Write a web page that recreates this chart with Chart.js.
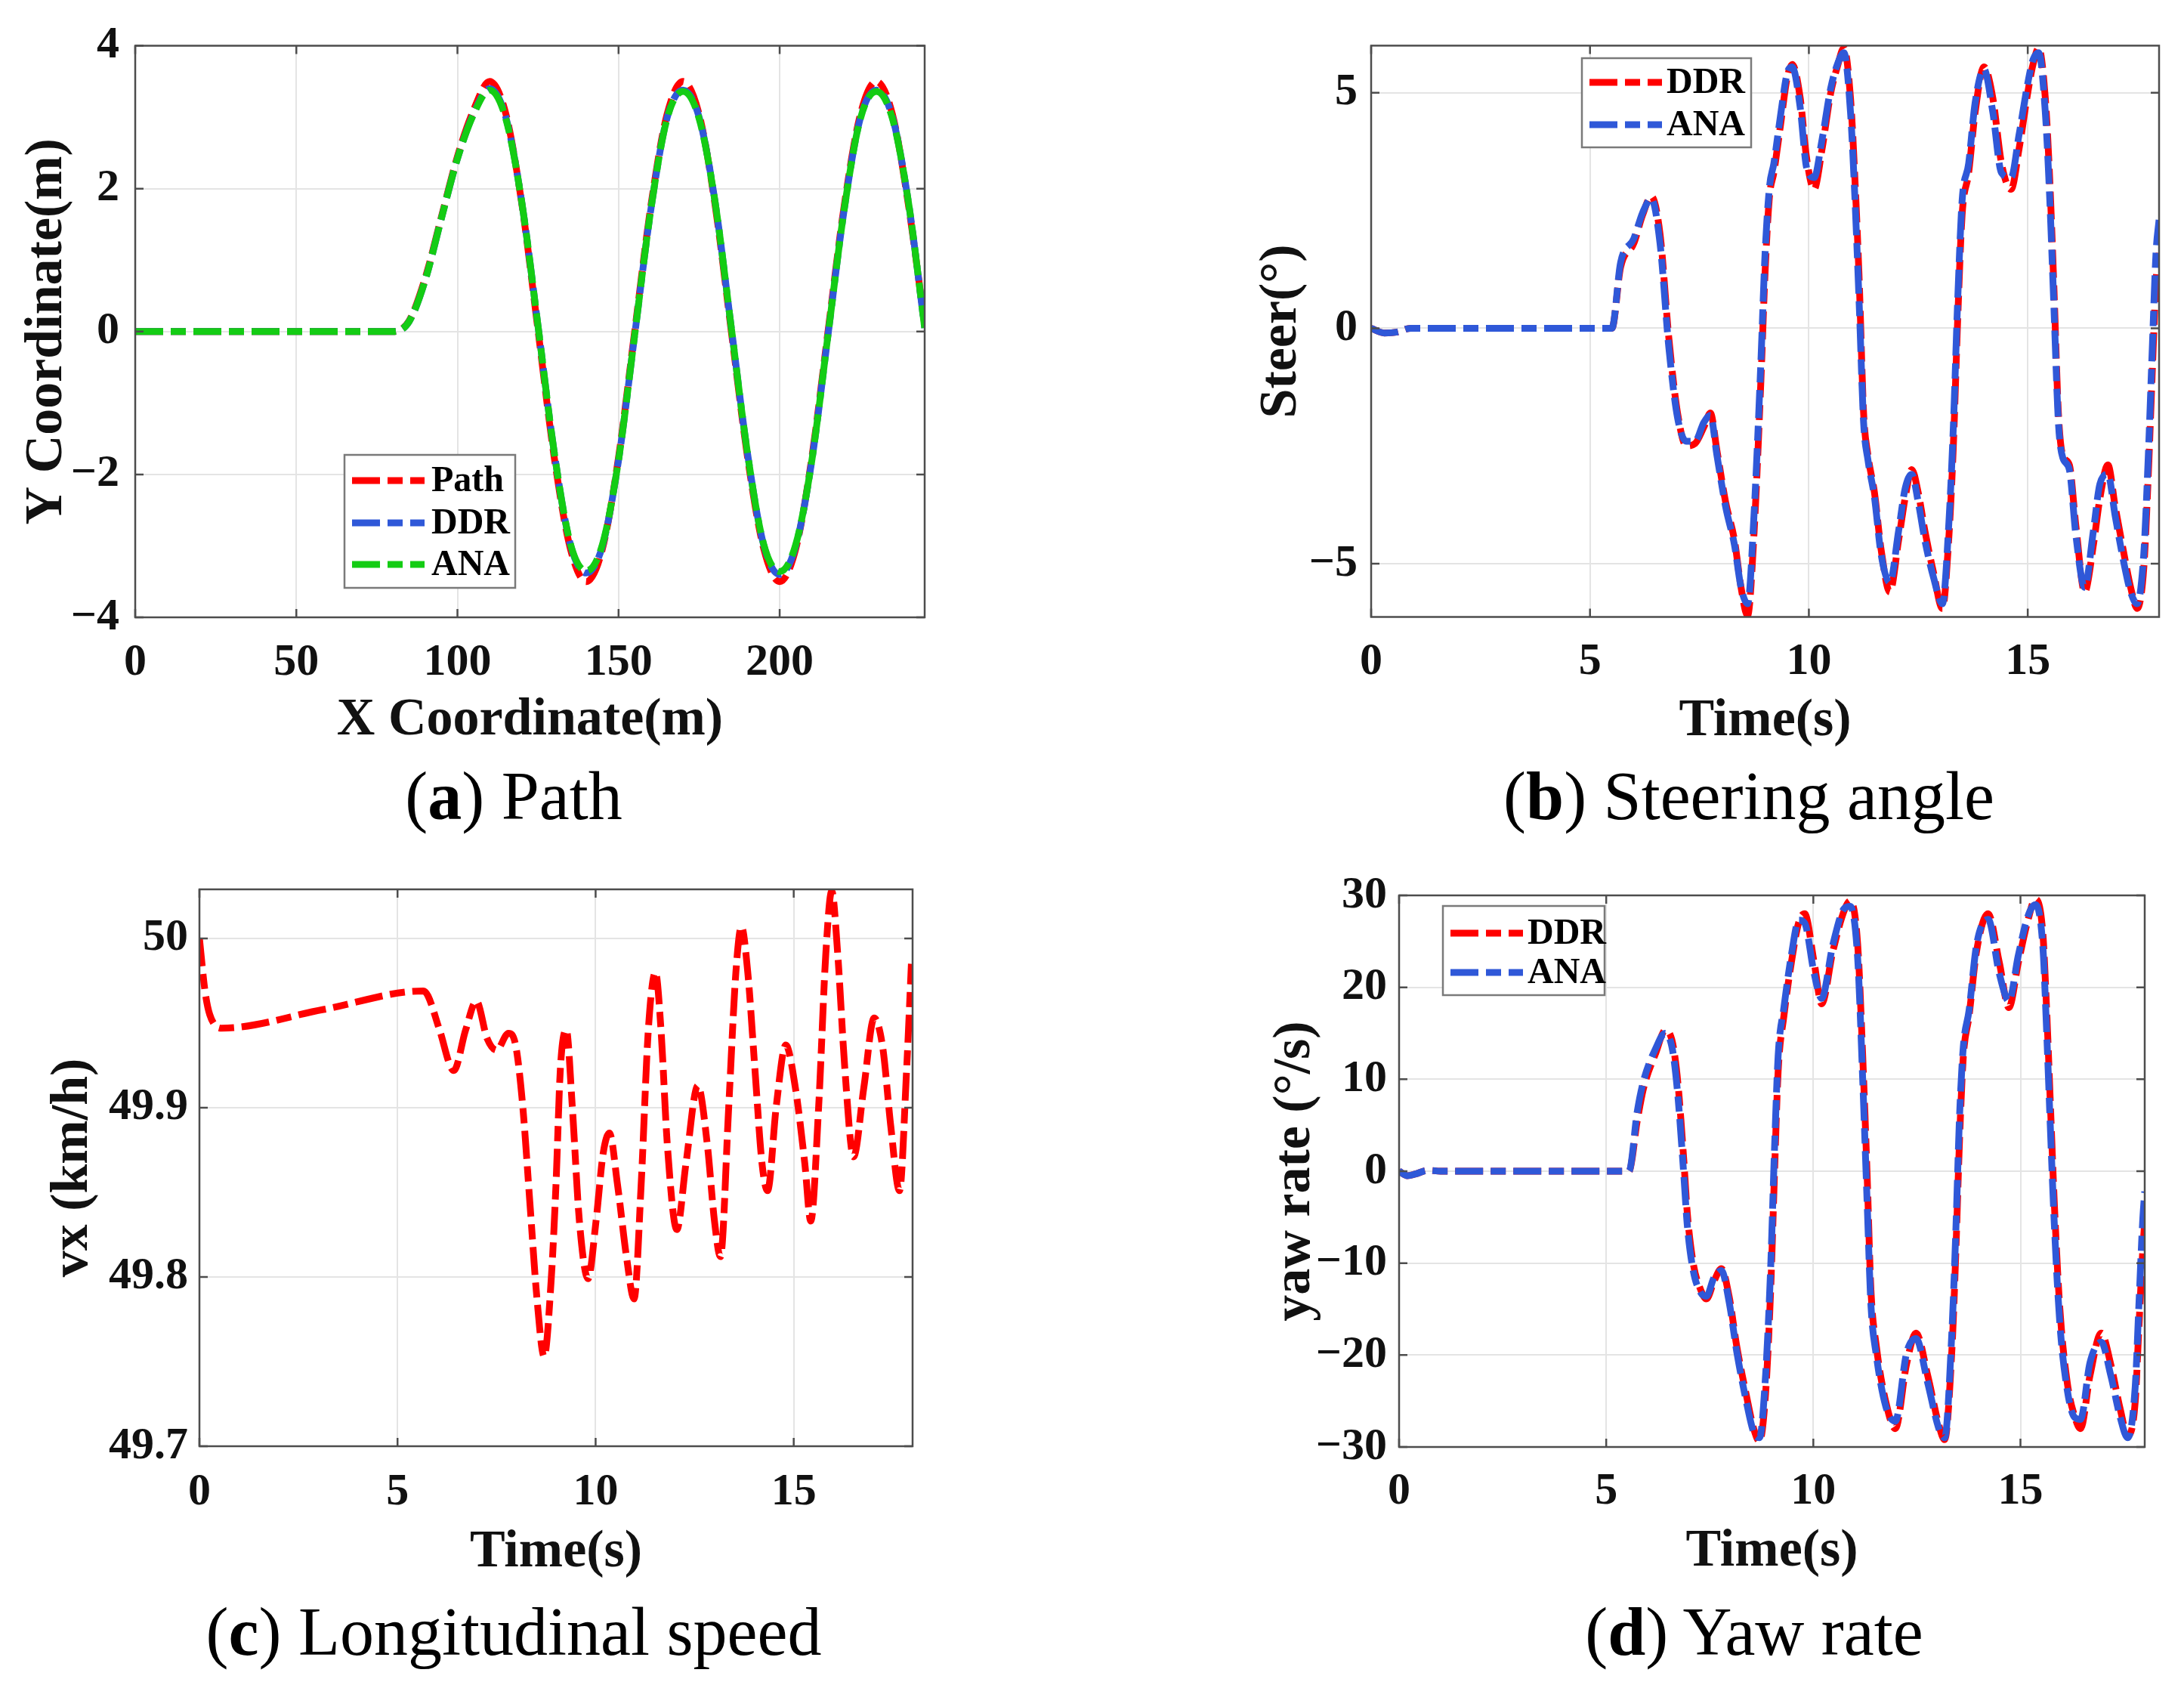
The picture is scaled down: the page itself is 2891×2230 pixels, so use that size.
<!DOCTYPE html>
<html lang="en">
<head>
<meta charset="UTF-8">
<script src="https://cdn.jsdelivr.net/npm/chart.js@4.4.1/dist/chart.umd.min.js"></script>
<title>Path, steering angle, speed and yaw rate</title>
<style>
  body { margin: 0; background: #fff; width: 2891px; height: 2230px; position: relative; overflow: hidden; }
  canvas { position: absolute; }
  .cap { position: absolute; transform: translate(-50%, -50%); font-family: 'Liberation Serif', serif;
         font-size: 90px; color: #000; white-space: nowrap; line-height: 1; }
</style>
</head>
<body>
<canvas id="pa" width="1445" height="1000" style="left:0px;top:0px"></canvas>
<canvas id="pb" width="1446" height="1000" style="left:1445px;top:0px"></canvas>
<canvas id="pc" width="1445" height="1000" style="left:0px;top:1115px"></canvas>
<canvas id="pd" width="1446" height="1000" style="left:1445px;top:1115px"></canvas>
<div class="cap" style="left:680px;top:1054px">(<b>a</b>) Path</div>
<div class="cap" style="left:2315px;top:1054px">(<b>b</b>) Steering angle</div>
<div class="cap" style="left:680px;top:2160px">(<b>c</b>) Longitudinal speed</div>
<div class="cap" style="left:2322px;top:2160px">(<b>d</b>) Yaw rate</div>
<script>
// (a) path, x in m
const pathX = [0, 5, 10, 15, 20, 25, 30, 35, 40, 45, 50, 55, 60, 65, 70, 75, 80, 85, 90, 95,
  100, 105, 110, 115, 120, 125, 130, 135, 140, 145, 150, 155, 160, 165, 170, 175, 180, 185, 190, 195,
  200, 205, 210, 215, 220, 225, 230, 235, 240, 245];
const pathRef = [0, 0, 0, 0, 0, 0, 0, 0, 0, 0, 0, 0, 0, 0, 0, 0, 0, 0.15, 0.75, 1.6,
  2.45, 3.1, 3.5, 3.05, 1.78, 0.02, -1.75, -3.03, -3.5, -3.04, -1.76, 0, 1.75, 3.03, 3.5, 3.04, 1.76, 0, -1.75, -3.03,
  -3.5, -3.04, -1.76, 0, 1.75, 3.03, 3.5, 3.04, 1.76, 0.1];
const pathDDR = [0, 0, 0, 0, 0, 0, 0, 0, 0, 0, 0, 0, 0, 0, 0, 0, 0, 0.14, 0.72, 1.58,
  2.42, 3.05, 3.4, 3.0, 1.8, 0.08, -1.68, -2.97, -3.38, -3.0, -1.8, -0.05, 1.7, 2.98, 3.38, 3.0, 1.8, 0.05, -1.7, -2.98,
  -3.4, -3.0, -1.8, -0.05, 1.7, 2.98, 3.38, 3.0, 1.8, 0.05];
const pathANA = [0, 0, 0, 0, 0, 0, 0, 0, 0, 0, 0, 0, 0, 0, 0, 0, 0, 0.14, 0.72, 1.58,
  2.42, 3.04, 3.38, 2.98, 1.8, 0.08, -1.68, -2.96, -3.35, -2.98, -1.8, -0.05, 1.7, 2.97, 3.36, 2.98, 1.8, 0.05, -1.7, -2.97,
  -3.36, -2.98, -1.8, -0.05, 1.7, 2.97, 3.36, 2.98, 1.8, 0.05];

// (b) steering angle, deg
const tB = [0, 0.3, 0.6, 0.9, 2, 3, 4, 5, 5.5, 5.7,
  6.0, 6.2, 6.4, 6.6, 6.8, 7.0, 7.2, 7.4, 7.6, 7.75,
  7.9, 8.1, 8.3, 8.45, 8.6, 8.75, 8.9, 9.0, 9.1, 9.2,
  9.35, 9.5, 9.62, 9.8, 9.95, 10.12, 10.3, 10.5, 10.65, 10.8,
  10.95, 11.05, 11.15, 11.25, 11.35, 11.5, 11.65, 11.85, 12.05, 12.2,
  12.35, 12.5, 12.65, 12.85, 13.05, 13.2, 13.3, 13.4, 13.5, 13.65,
  13.8, 14.0, 14.2, 14.4, 14.62, 14.8, 15.0, 15.12, 15.25, 15.4,
  15.5, 15.6, 15.7, 15.8, 15.95, 16.1, 16.3, 16.5, 16.65, 16.83,
  17.0, 17.2, 17.35, 17.5, 17.65, 17.75, 17.85, 17.93, 18.0];
const steerDDR = [0, -0.1, -0.08, 0, 0, 0, 0, 0, 0, 1.3,
  1.8, 2.4, 2.8, 2.0, -0.2, -1.8, -2.5, -2.45, -2.1, -1.8,
  -2.6, -3.7, -4.5, -5.5, -6.1, -4.3, -1.2, 1.2, 2.8, 3.3,
  4.3, 5.3, 5.6, 4.9, 3.6, 2.95, 3.8, 5.0, 5.55, 5.95,
  4.9, 3.2, 1.0, -1.8, -2.7, -3.5, -4.7, -5.6, -4.5, -3.6,
  -3.0, -3.5, -4.3, -5.2, -5.95, -4.4, -2.5, 0.2, 2.4, 3.3,
  4.6, 5.55, 4.9, 3.5, 2.95, 3.8, 5.0, 5.6, 5.95, 4.9,
  3.2, 0.8, -1.8, -2.7, -2.9, -4.2, -5.6, -4.6, -3.6, -2.9,
  -3.8, -4.8, -5.5, -5.95, -5.1, -3.2, -0.8, 1.0, 1.6];
const steerANA = [0, -0.1, -0.08, 0, 0, 0, 0, 0, 0, 1.4,
  1.9, 2.45, 2.75, 1.8, -0.4, -1.9, -2.4, -2.4, -2.0, -1.85,
  -2.7, -3.8, -4.6, -5.5, -5.85, -3.9, -0.8, 1.6, 3.0, 3.5,
  4.5, 5.4, 5.55, 4.7, 3.4, 3.2, 4.0, 5.1, 5.6, 5.85,
  4.6, 2.8, 0.5, -2.0, -2.8, -3.6, -4.8, -5.4, -4.3, -3.4,
  -3.1, -3.7, -4.5, -5.3, -5.85, -4.1, -2.1, 0.6, 2.7, 3.5,
  4.8, 5.5, 4.6, 3.3, 3.2, 4.1, 5.2, 5.7, 5.85, 4.6,
  2.8, 0.4, -2.0, -2.75, -3.0, -4.4, -5.5, -4.3, -3.3, -3.1,
  -4.0, -5.0, -5.6, -5.85, -4.8, -2.8, -0.3, 1.6, 2.3];

// (c) longitudinal speed, km/h
const tC = [0, 0.14, 0.26, 0.56, 3.13, 5.65, 5.77, 6.06, 6.42, 6.72,
  6.99, 7.26, 7.5, 7.8, 7.98, 8.16, 8.34, 8.52, 8.7, 8.88,
  9.0, 9.11, 9.26, 9.41, 9.59, 9.81, 10.01, 10.19, 10.35, 10.55,
  10.79, 10.97, 11.15, 11.33, 11.51, 11.65, 11.81, 12.05, 12.28, 12.58,
  12.82, 13.0, 13.15, 13.36, 13.54, 13.68, 13.84, 14.02, 14.2, 14.34,
  14.56, 14.8, 15.04, 15.28, 15.43, 15.63, 15.81, 15.96, 16.11, 16.29,
  16.51, 16.77, 17.03, 17.25, 17.45, 17.67, 17.85, 17.97];
const vx = [50.0, 49.969, 49.955, 49.947, 49.958, 49.969, 49.966, 49.946, 49.922, 49.946,
  49.963, 49.941, 49.934, 49.944, 49.937, 49.901, 49.844, 49.787, 49.753, 49.799,
  49.855, 49.923, 49.946, 49.901, 49.833, 49.799, 49.833, 49.873, 49.885, 49.855,
  49.81, 49.787, 49.855, 49.946, 49.98, 49.946, 49.878, 49.828, 49.867, 49.913,
  49.878, 49.833, 49.812, 49.901, 49.98, 50.007, 49.98, 49.923, 49.867, 49.851,
  49.901, 49.937, 49.912, 49.867, 49.833, 49.901, 49.991, 50.028, 49.991, 49.923,
  49.871, 49.912, 49.953, 49.935, 49.889, 49.851, 49.923, 49.985];

// (d) yaw rate, deg/s
const tD = [0, 0.2, 0.4, 0.7, 1.0, 2, 3, 4, 5, 5.55,
  5.75, 5.9, 6.2, 6.42, 6.6, 6.73, 6.87, 6.96, 7.1, 7.28,
  7.42, 7.6, 7.78, 7.97, 8.15, 8.38, 8.56, 8.7, 8.85, 8.97,
  9.06, 9.15, 9.29, 9.47, 9.65, 9.79, 10.02, 10.2, 10.47, 10.75,
  10.89, 11.07, 11.2, 11.3, 11.39, 11.52, 11.75, 11.98, 12.25, 12.48,
  12.76, 13.03, 13.17, 13.35, 13.44, 13.53, 13.62, 13.76, 13.94, 14.22,
  14.49, 14.72, 14.95, 15.17, 15.36, 15.54, 15.63, 15.72, 15.81, 15.95,
  16.13, 16.31, 16.45, 16.68, 16.95, 17.18, 17.41, 17.59, 17.77, 17.86,
  17.95, 18.0];
const yawDDR = [0, -0.5, -0.3, 0.1, 0, 0, 0, 0, 0, 0,
  5.5, 9.0, 12.9, 15.3, 14.0, 9.6, 1.4, -4.7, -10, -12.9,
  -13.9, -12.0, -10.6, -13.7, -19, -24.3, -28, -29.4, -24, -12.9,
  -0.6, 10.8, 16.9, 22.7, 27.1, 28, 22.7, 18.2, 23.9, 28.4,
  29.4, 24.7, 11.6, -0.6, -12.9, -19, -25.1, -28, -21, -17.6,
  -22.2, -27.6, -29.2, -19, -8.8, 3.5, 12.4, 16.9, 23.9, 28,
  22.7, 17.8, 22.7, 27.1, 29.6, 25.9, 17.8, 7.6, -2.7, -14.9,
  -23, -26.7, -28, -22.2, -17.6, -21, -25.9, -28.8, -25.1, -16.9,
  -8.8, -5.5];
const yawANA = [0, -0.5, -0.3, 0.1, 0, 0, 0, 0, 0, 0,
  6.5, 9.8, 13.4, 15.0, 13.2, 8.2, -0.2, -6, -10.8, -13.2,
  -13.6, -11.6, -10.8, -14.3, -19.6, -25, -28.4, -29, -22, -10.5,
  2.0, 12.5, 17.8, 23.5, 27.3, 27.0, 21.5, 18.8, 24.6, 28.6,
  28.8, 23.2, 9.0, -3.5, -14.5, -20, -25.6, -27.2, -19.8, -18.2,
  -23.0, -28, -29, -17, -6.5, 6.0, 13.5, 17.5, 24.6, 27.4,
  21.5, 18.5, 23.5, 27.6, 29.0, 24.5, 15.5, 5.0, -5.0, -16.5,
  -23.8, -26.8, -27, -20.8, -18.6, -22.2, -26.8, -29, -23.5, -14.5,
  -5.5, -2.2];

const RED = '#ff0000', BLUE = '#2f58d8', GREEN = '#14cc14';
const DASH = [37, 10, 20, 10];
const SERIF = 'Liberation Serif';

function pts(xs, ys) {
  return xs.map((x, i) => ({ x: x, y: ys[i] }));
}
// order: higher numbers are drawn first, so the last series ends up on top
function line(label, xs, ys, color, order) {
  return { label: label, data: pts(xs, ys), borderColor: color, borderWidth: 9, borderDash: DASH,
           borderCapStyle: 'butt', pointRadius: 0, cubicInterpolationMode: 'monotone', fill: false, order: order };
}
function fmt(v) {
  return String(Number(v.toFixed(2))).replace('-', '\u2212');
}

// box, inward ticks and the legend inside the axes
const frame = {
  id: 'frame',
  afterDatasetsDraw(chart, args, opts) {
    const ctx = chart.ctx, a = chart.chartArea, xs = chart.scales.x, ys = chart.scales.y;
    ctx.save();
    ctx.setLineDash([]);
    ctx.strokeStyle = '#4d4d4d';
    ctx.lineWidth = 2.5;
    ctx.strokeRect(a.left, a.top, a.right - a.left, a.bottom - a.top);
    ctx.beginPath();
    xs.ticks.forEach(t => {
      const p = xs.getPixelForValue(t.value);
      ctx.moveTo(p, a.bottom); ctx.lineTo(p, a.bottom - 11);
      ctx.moveTo(p, a.top); ctx.lineTo(p, a.top + 11);
    });
    ys.ticks.forEach(t => {
      const p = ys.getPixelForValue(t.value);
      ctx.moveTo(a.left, p); ctx.lineTo(a.left + 11, p);
      ctx.moveTo(a.right, p); ctx.lineTo(a.right - 11, p);
    });
    ctx.stroke();
    const L = opts.legend;
    if (L) {
      ctx.fillStyle = '#fff';
      ctx.fillRect(L.x, L.y, L.w, L.h);
      ctx.strokeStyle = '#7a7a7a';
      ctx.lineWidth = 2.5;
      ctx.strokeRect(L.x, L.y, L.w, L.h);
      chart.data.datasets.forEach((ds, i) => {
        const yy = L.rows[i];
        ctx.strokeStyle = ds.borderColor;
        ctx.lineWidth = ds.borderWidth;
        ctx.setLineDash(ds.borderDash);
        ctx.beginPath();
        ctx.moveTo(L.x0, yy); ctx.lineTo(L.x1, yy);
        ctx.stroke();
        ctx.setLineDash([]);
        ctx.fillStyle = '#000';
        ctx.font = 'bold 48px "' + SERIF + '"';
        ctx.textBaseline = 'middle';
        ctx.fillText(ds.label, L.tx, yy + 2);
      });
    }
    ctx.restore();
  }
};

function panel(id, datasets, p) {
  const tickFont = { family: SERIF, size: 60, weight: 'bold', lineHeight: 1 };
  const titleFont = { family: SERIF, size: 70, weight: 'bold', lineHeight: 1 };
  return new Chart(document.getElementById(id), {
    type: 'line',
    data: { datasets: datasets },
    plugins: [frame],
    options: {
      responsive: false,
      animation: false,
      devicePixelRatio: 1,
      layout: { padding: { left: 0, top: p.top, right: p.right, bottom: 0 } },
      plugins: { legend: { display: false }, tooltip: { enabled: false }, frame: { legend: p.legend } },
      scales: {
        x: {
          type: 'linear', min: p.xmin, max: p.xmax,
          ticks: { stepSize: p.xstep, includeBounds: false, autoSkip: false, maxRotation: 0,
                   padding: p.xpad, font: tickFont, color: '#111', callback: fmt },
          grid: { drawTicks: false, color: '#e4e4e4', lineWidth: 2 },
          border: { display: false },
          title: { display: true, text: p.xtitle, font: titleFont, color: '#111', padding: { top: 0, bottom: p.xtpad } },
          afterFit: s => { s.height = p.xh; }
        },
        y: {
          type: 'linear', min: p.ymin, max: p.ymax,
          ticks: { stepSize: p.ystep, includeBounds: false, autoSkip: false,
                   padding: p.ypad, font: tickFont, color: '#111', callback: fmt },
          grid: { drawTicks: false, color: '#e4e4e4', lineWidth: 2 },
          border: { display: false },
          title: { display: true, text: p.ytitle, font: titleFont, color: '#111', padding: { top: p.ytpad, bottom: 0 } },
          afterFit: s => { s.width = p.yw; }
        }
      }
    }
  });
}

panel('pa', [
  line('Path', pathX, pathRef, RED, 3),
  line('DDR', pathX, pathDDR, BLUE, 2),
  line('ANA', pathX, pathANA, GREEN, 1)
], {
  top: 60.5, right: 221, yw: 179, xh: 183,
  xmin: 0, xmax: 245, xstep: 50, ymin: -4, ymax: 4, ystep: 2,
  xpad: 30, ypad: 21, xtpad: 11, ytpad: 28,
  xtitle: 'X Coordinate(m)', ytitle: 'Y Coordinate(m)',
  legend: { x: 456, y: 602, w: 226, h: 176, rows: [636, 692, 747], x0: 466, x1: 562, tx: 571 }
});

panel('pb', [
  line('DDR', tB, steerDDR, RED, 2),
  line('ANA', tB, steerANA, BLUE, 1)
], {
  top: 60.4, right: 33, yw: 370, xh: 183.5,
  xmin: 0, xmax: 18, xstep: 5, ymin: -6.13, ymax: 6.0, ystep: 5,
  xpad: 30, ypad: 18, xtpad: 10, ytpad: 217,
  xtitle: 'Time(s)', ytitle: 'Steer(°)',
  legend: { x: 649, y: 77, w: 224, h: 118, rows: [109, 165], x0: 659, x1: 755, tx: 761 }
});

panel('pc', [
  line('vx', tC, vx, RED, 1)
], {
  top: 62, right: 237, yw: 264, xh: 201,
  xmin: 0, xmax: 18, xstep: 5, ymin: 49.7, ymax: 50.029, ystep: 0.1,
  xpad: 31, ypad: 15, xtpad: 25, ytpad: 62,
  xtitle: 'Time(s)', ytitle: 'vx (km/h)',
  legend: null
});

panel('pd', [
  line('DDR', tD, yawDDR, RED, 2),
  line('ANA', tD, yawANA, BLUE, 1)
], {
  top: 70, right: 52, yw: 407, xh: 200,
  xmin: 0, xmax: 18, xstep: 5, ymin: -30, ymax: 30, ystep: 10,
  xpad: 29, ypad: 16, xtpad: 26, ytpad: 235,
  xtitle: 'Time(s)', ytitle: 'yaw rate (°/s)',
  legend: { x: 465, y: 84, w: 214, h: 118, rows: [120, 172], x0: 475, x1: 571, tx: 577 }
});
</script>
</body>
</html>
